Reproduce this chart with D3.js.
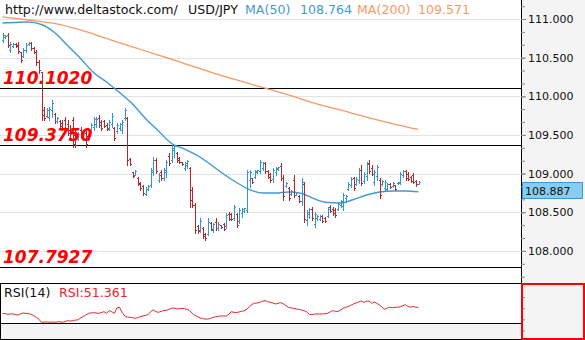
<!DOCTYPE html>
<html><head><meta charset="utf-8">
<script src="https://cdn.jsdelivr.net/npm/d3@7"></script>
<style>html,body{margin:0;padding:0;background:#fff;}svg{display:block;}</style>
</head><body><svg id="chart" width="585" height="340"></svg>
<script>
// USD/JPY OHLC bars, oldest first
const open = [
110.728,110.767,110.793,110.599,110.651,110.677,110.664,110.573,110.521,110.599,
110.677,110.690,110.625,110.573,110.444,110.314,109.823,109.745,109.732,109.823,
109.771,109.681,109.681,109.655,109.693,109.642,109.564,109.693,109.499,109.448,
109.564,109.461,109.525,109.486,109.538,109.603,109.642,109.719,109.668,109.681,
109.629,109.590,109.642,109.590,109.551,109.590,109.564,109.719,109.719,109.189,
109.021,108.982,108.943,108.878,108.840,108.736,108.801,108.853,109.021,109.176,
108.917,109.021,108.943,109.021,109.228,109.176,109.305,109.266,109.202,109.150,
109.072,109.111,109.072,108.788,108.594,108.322,108.270,108.296,108.219,108.219,
108.361,108.270,108.374,108.296,108.335,108.348,108.322,108.477,108.477,108.426,
108.477,108.387,108.490,108.516,108.529,108.917,108.943,108.956,109.021,109.034,
109.072,109.137,109.034,108.995,108.930,109.021,109.059,109.098,108.943,108.840,
108.814,108.736,108.917,108.723,108.710,108.645,108.865,108.400,108.477,108.542,
108.348,108.426,108.413,108.451,108.426,108.451,108.568,108.542,108.529,108.542,
108.594,108.581,108.684,108.801,108.853,108.943,108.865,108.917,109.047,108.904,
108.969,109.137,109.072,108.891,108.969,108.917,108.865,108.814,108.801,108.865,
108.840,108.853,108.878,108.878,108.982,109.034,108.995,108.956,108.982,108.904,
108.865];
const high = [
110.819,110.793,110.819,110.702,110.690,110.690,110.702,110.573,110.625,110.690,
110.702,110.702,110.638,110.599,110.470,110.314,109.862,109.849,109.862,109.952,
109.784,109.732,109.693,109.693,109.732,109.693,109.629,109.732,109.564,109.538,
109.603,109.564,109.564,109.499,109.655,109.732,109.732,109.758,109.693,109.693,
109.655,109.693,109.784,109.603,109.655,109.655,109.693,109.849,109.732,109.202,
109.021,109.047,108.956,108.891,108.853,108.827,108.853,109.072,109.215,109.202,
109.008,109.047,109.072,109.176,109.266,109.370,109.370,109.279,109.215,109.150,
109.150,109.176,109.085,108.827,108.620,108.335,108.426,108.309,108.232,108.426,
108.374,108.361,108.426,108.374,108.335,108.361,108.490,108.503,108.490,108.594,
108.490,108.555,108.555,108.555,109.047,109.047,108.943,109.047,109.047,109.176,
109.150,109.150,109.047,109.008,109.072,109.085,109.085,109.137,108.982,108.891,
108.827,108.788,108.982,108.762,108.723,108.943,108.891,108.529,108.555,108.568,
108.503,108.464,108.464,108.464,108.439,108.568,108.594,108.568,108.555,108.632,
108.658,108.749,108.723,108.891,108.956,108.956,108.956,109.072,109.111,109.021,
109.150,109.176,109.111,109.047,109.111,108.943,108.917,108.917,108.878,108.878,
108.891,108.853,108.891,109.021,109.047,109.047,109.021,108.969,109.008,108.917,
108.904];
const low = [
110.702,110.754,110.638,110.573,110.638,110.638,110.560,110.444,110.508,110.573,
110.664,110.599,110.560,110.405,110.301,109.693,109.693,109.732,109.693,109.732,
109.655,109.655,109.603,109.564,109.564,109.499,109.435,109.344,109.344,109.435,
109.474,109.435,109.344,109.435,109.525,109.564,109.603,109.603,109.564,109.603,
109.564,109.564,109.603,109.435,109.525,109.564,109.525,109.693,109.111,109.111,
108.956,108.982,108.853,108.788,108.723,108.723,108.788,108.827,108.982,109.008,
108.891,108.917,108.917,108.956,109.111,109.150,109.215,109.150,109.137,109.111,
109.047,109.072,108.568,108.568,108.232,108.232,108.244,108.167,108.141,108.206,
108.270,108.244,108.270,108.270,108.296,108.270,108.296,108.400,108.400,108.400,
108.309,108.361,108.439,108.503,108.503,108.827,108.878,108.943,109.008,109.008,
109.047,109.008,108.943,108.891,108.891,108.982,109.047,108.917,108.658,108.827,
108.658,108.723,108.697,108.723,108.632,108.594,108.374,108.335,108.426,108.400,
108.309,108.400,108.400,108.374,108.374,108.439,108.503,108.464,108.439,108.529,
108.568,108.529,108.632,108.788,108.827,108.788,108.853,108.878,108.853,108.878,
108.917,109.008,108.982,108.853,108.917,108.684,108.853,108.788,108.788,108.814,
108.827,108.788,108.865,108.865,108.956,108.917,108.917,108.891,108.878,108.840,
108.865];
const close = [
110.793,110.780,110.664,110.677,110.677,110.651,110.586,110.470,110.599,110.664,
110.690,110.625,110.573,110.444,110.340,109.758,109.719,109.823,109.836,109.913,
109.681,109.719,109.616,109.590,109.590,109.525,109.461,109.383,109.370,109.512,
109.486,109.538,109.383,109.448,109.629,109.706,109.706,109.629,109.590,109.616,
109.577,109.668,109.745,109.461,109.629,109.642,109.668,109.823,109.176,109.124,
108.969,109.034,108.865,108.814,108.749,108.801,108.840,109.047,109.176,109.034,
108.982,108.943,109.047,109.150,109.137,109.331,109.357,109.176,109.150,109.124,
109.137,109.163,108.658,108.594,108.270,108.257,108.387,108.193,108.167,108.374,
108.283,108.348,108.296,108.348,108.309,108.283,108.464,108.413,108.413,108.568,
108.335,108.529,108.542,108.555,109.021,109.021,108.891,109.034,109.047,109.150,
109.137,109.034,108.956,108.917,109.047,109.072,109.085,108.943,108.710,108.878,
108.684,108.775,108.723,108.762,108.645,108.891,108.413,108.503,108.542,108.426,
108.477,108.451,108.451,108.387,108.387,108.542,108.516,108.490,108.464,108.607,
108.645,108.723,108.710,108.865,108.930,108.814,108.930,109.047,108.878,108.995,
109.124,109.034,108.995,109.021,109.085,108.723,108.904,108.891,108.865,108.827,
108.878,108.801,108.891,108.995,109.034,108.943,108.930,108.904,108.891,108.865,
108.887];

// Moving averages, sampled at the listed bar numbers
const ma50Bars = [0,5,10,15,20,25,30,35,40,45,50,55,60,65,70,75,80,85,90,95,100,105,110,115,120,125,130,135,140,145,150,155,160];
const ma50 = [110.948,110.955,110.961,110.929,110.825,110.657,110.489,110.308,110.185,110.049,109.900,109.713,109.551,109.390,109.318,109.234,109.118,108.995,108.885,108.794,108.749,108.749,108.762,108.743,108.672,108.626,108.620,108.665,108.723,108.762,108.775,108.775,108.764];
const ma200Bars = [0,10,20,30,40,50,60,70,80,90,100,110,120,130,140,150,160];
const ma200 = [111.026,110.987,110.942,110.858,110.748,110.638,110.534,110.424,110.314,110.211,110.114,110.017,109.913,109.823,109.732,109.648,109.571];

// RSI(14)
const rsi = [
43.0,42.6,41.7,42.2,42.2,41.3,40.8,42.6,43.5,43.0,
43.0,41.7,39.9,37.7,35.0,30.9,31.2,31.4,30.9,31.4,
30.9,31.4,31.8,30.9,31.8,33.2,32.7,33.2,34.0,34.0,
36.8,38.6,40.8,43.0,43.5,44.0,43.5,43.0,44.0,45.3,
43.0,46.7,45.3,43.0,50.3,51.2,44.4,39.5,38.1,37.7,
37.2,36.3,37.2,38.6,39.5,40.4,41.3,45.3,47.6,45.3,
44.4,45.8,46.7,47.1,48.5,49.8,50.3,48.9,49.4,49.8,
49.4,48.5,46.7,43.0,40.4,38.6,36.8,35.9,35.4,35.4,
36.3,37.7,38.6,39.0,39.5,39.5,39.5,41.7,45.3,44.4,
44.0,44.9,45.8,46.7,48.5,52.1,55.2,56.6,57.0,57.9,
59.3,60.2,58.8,57.9,57.0,55.7,56.6,57.5,56.1,53.4,
51.2,50.3,49.8,48.9,48.5,47.6,46.7,44.9,41.7,41.3,
42.2,42.2,42.2,42.2,42.6,43.0,44.9,46.7,45.8,45.3,
47.6,49.8,51.2,52.1,53.9,55.7,57.0,58.4,59.7,57.9,
59.3,59.7,56.6,58.4,56.6,54.3,51.2,48.5,50.3,51.2,
50.7,51.2,51.2,52.1,53.4,54.8,52.1,51.6,52.1,51.2,
51.361];

// Horizontal levels and axis labels
const levels = [110.1020, 109.3750, 107.7927];
const priceTicks = [111, 110.5, 110, 109.5, 109, 108.5, 108];
const rsiTicks = [65, 50, 35, 20];
const lastPrice = 108.887;
const ma50Last = 108.764, ma200Last = 109.571, rsiLast = 51.361;

const W = 585, H = 340, axisX = 521, mainBottom = 283, rsiBottom = 323;
const UP = '#2f96d2', DOWN = '#b2292b';
const svg = d3.select('#chart');

const x = d3.scaleLinear().domain([0, close.length - 1]).range([2.5, 418.5]);
const y = d3.scaleLinear().domain([108, 111]).range([250.9, 19]);
const yR = d3.scaleLinear().domain([30, 84]).range([rsiBottom, mainBottom]);

// backgrounds
svg.append('rect').attr('x', 0).attr('y', 0).attr('width', W).attr('height', H).attr('fill', '#fff');
svg.append('rect').attr('x', axisX).attr('y', 0).attr('width', W - axisX).attr('height', H).attr('fill', '#f4f4f4');
svg.append('rect').attr('x', 0).attr('y', rsiBottom).attr('width', axisX).attr('height', H - rsiBottom).attr('fill', '#f4f4f4');

// grid
const main = svg.append('g');
main.selectAll('line.grid').data(priceTicks).join('line')
  .attr('x1', 0).attr('x2', axisX)
  .attr('y1', d => Math.round(y(d)) + 0.5).attr('y2', d => Math.round(y(d)) + 0.5)
  .attr('stroke', '#e4e4e4').attr('stroke-width', 1);

// level lines
main.selectAll('line.level').data(levels).join('line')
  .attr('x1', 0).attr('x2', axisX)
  .attr('y1', d => Math.round(y(d)) + 0.5).attr('y2', d => Math.round(y(d)) + 0.5)
  .attr('stroke', '#000').attr('stroke-width', 1.2);

// moving averages
const lineGen = d3.line().curve(d3.curveMonotoneX);
main.append('path')
  .attr('d', lineGen(ma200Bars.map((b, i) => [x(b), y(ma200[i])])))
  .attr('fill', 'none').attr('stroke', '#f59a66').attr('stroke-width', 1.3);
main.append('path')
  .attr('d', lineGen(ma50Bars.map((b, i) => [x(b), y(ma50[i])])))
  .attr('fill', 'none').attr('stroke', '#3f9ad6').attr('stroke-width', 1.4);

// OHLC bars
const bars = main.append('g').attr('shape-rendering', 'crispEdges');
close.forEach((c, i) => {
  const cx = Math.round(x(i));
  const col = c >= open[i] ? UP : DOWN;
  const yh = Math.round(y(high[i])), yl = Math.round(y(low[i]));
  bars.append('rect').attr('x', cx).attr('y', yh).attr('width', 1).attr('height', Math.max(1, yl - yh + 1)).attr('fill', col);
  bars.append('rect').attr('x', cx - 1).attr('y', Math.round(y(open[i]))).attr('width', 1).attr('height', 1).attr('fill', col);
  bars.append('rect').attr('x', cx + 1).attr('y', Math.round(y(c))).attr('width', 1).attr('height', 1).attr('fill', col);
});

// level labels
const lvlFont = "bold italic 17px 'DejaVu Sans', sans-serif";
main.selectAll('text.lvl').data(levels).join('text')
  .attr('x', 3).attr('y', d => Math.round(y(d)) - 4)
  .attr('fill', '#ff0000').style('font', lvlFont)
  .text(d => d.toFixed(4));

// RSI line
svg.append('path')
  .attr('d', d3.line()(rsi.map((v, i) => [x(i), yR(v)])))
  .attr('fill', 'none').attr('stroke', '#e8262a').attr('stroke-width', 1);

// frame lines
const frame = svg.append('g').attr('stroke', '#000').attr('stroke-width', 1).attr('shape-rendering', 'crispEdges');
frame.append('line').attr('x1', axisX + 0.5).attr('x2', axisX + 0.5).attr('y1', 0).attr('y2', H);
frame.append('line').attr('x1', 0).attr('x2', W).attr('y1', mainBottom + 0.5).attr('y2', mainBottom + 0.5);
frame.append('line').attr('x1', 0).attr('x2', axisX).attr('y1', rsiBottom + 0.5).attr('y2', rsiBottom + 0.5);
frame.append('line').attr('x1', 0).attr('x2', W).attr('y1', H - 0.5).attr('y2', H - 0.5);
frame.append('line').attr('x1', 0.5).attr('x2', 0.5).attr('y1', mainBottom).attr('y2', H);

// price axis
const minorTicks = d3.range(0, 22).map(k => 111 + 1 / 6 - k / 6).filter(v => y(v) < mainBottom - 2);
const minorAxis = d3.axisRight(y).tickValues(minorTicks).tickFormat('').tickSize(4);
svg.append('g').attr('transform', `translate(${axisX},0)`).call(minorAxis)
  .call(g => g.select('.domain').remove())
  .call(g => g.selectAll('line').attr('stroke', '#8a8a8a'));
const priceAxis = d3.axisRight(y).tickValues(priceTicks).tickFormat(d3.format('.3f')).tickSize(5).tickPadding(2);
svg.append('g').attr('transform', `translate(${axisX},0)`).call(priceAxis)
  .call(g => g.select('.domain').remove())
  .call(g => g.selectAll('line').attr('stroke', '#8a8a8a'))
  .call(g => g.selectAll('text').attr('fill', '#111').style('font', "11px 'DejaVu Sans', sans-serif"));

// RSI axis ticks
const rsiAxis = d3.axisRight(yR).tickValues(rsiTicks).tickFormat('').tickSize(4);
svg.append('g').attr('transform', `translate(${axisX},0)`).call(rsiAxis)
  .call(g => g.select('.domain').remove())
  .call(g => g.selectAll('line').attr('stroke', '#8a8a8a'));

// last price tag
const ly = Math.round(y(lastPrice));
svg.append('rect').attr('x', axisX + 1.5).attr('y', ly + 0.5).attr('width', 60).attr('height', 16)
  .attr('fill', '#87cdf1').attr('stroke', '#3a9ad9').attr('stroke-width', 1);
svg.append('text').attr('x', axisX + 4).attr('y', ly + 13).attr('fill', '#111')
  .style('font', "11px 'DejaVu Sans', sans-serif").text(lastPrice.toFixed(3));

// RSI frame box on the axis
svg.append('rect').attr('x', axisX + 1).attr('y', mainBottom + 1).attr('width', W - axisX - 2).attr('height', H - mainBottom - 2)
  .attr('fill', 'none').attr('stroke', '#ff0000').attr('stroke-width', 2);

// header
const hdrFont = "12.6px 'DejaVu Sans', sans-serif";
const header = [
  {t: 'http://www.deltastock.com/', x: 5, c: '#111'},
  {t: 'USD/JPY', x: 188, c: '#111'},
  {t: 'MA(50)', x: 245, c: '#3f9ad6'},
  {t: ma50Last.toFixed(3), x: 300, c: '#3f9ad6'},
  {t: 'MA(200)', x: 357, c: '#f59a66'},
  {t: ma200Last.toFixed(3), x: 418, c: '#f59a66'}
];
svg.selectAll('text.hdr').data(header).join('text')
  .attr('x', d => d.x).attr('y', 14).attr('fill', d => d.c).style('font', hdrFont).text(d => d.t);

// RSI header
svg.append('text').attr('x', 4).attr('y', 297).attr('fill', '#111').style('font', hdrFont).text('RSI(14)');
svg.append('text').attr('x', 59).attr('y', 297).attr('fill', '#e8262a').style('font', hdrFont).text('RSI:' + rsiLast.toFixed(3));
</script>
</body></html>
